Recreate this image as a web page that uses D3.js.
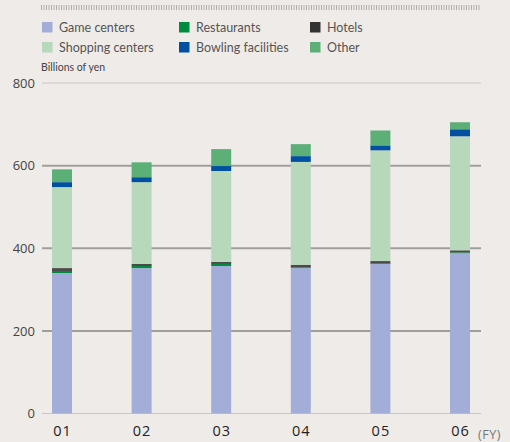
<!DOCTYPE html>
<html>
<head>
<meta charset="utf-8">
<script src="https://cdn.jsdelivr.net/npm/d3@7"></script>
<style>
  html, body { margin: 0; padding: 0; background: #efebe8; }
  svg { display: block; font-family: "Open Sans", "Noto Sans", sans-serif; }
</style>
</head>
<body>
<svg id="chart" width="510" height="442"></svg>
<script>
// Fiscal years shown along the x axis
const years = ["01", "02", "03", "04", "05", "06"];

// Segment values, billions of yen
const gameCenters     = [340, 352, 357, 352, 362, 388];
const restaurants     = [5, 5, 5, 2, 2, 2];
const hotels          = [7, 5, 5, 6, 5, 5];
const shoppingCenters = [196, 198, 220, 249, 268, 276];
const bowling         = [12, 12, 12, 14, 12, 17];
const other           = [31, 36, 41, 29, 36, 17];

const yTicks = [0, 200, 400, 600, 800];

// Series in stacking order (bottom to top)
const seriesKeys = ["Game centers", "Restaurants", "Hotels", "Shopping centers", "Bowling facilities", "Other"];
const seriesValues = [gameCenters, restaurants, hotels, shoppingCenters, bowling, other];
const colors = {
  "Game centers": "#a3aed8",
  "Restaurants": "#008c3f",
  "Hotels": "#4a4a4a",
  "Shopping centers": "#b8d8bc",
  "Bowling facilities": "#0050a2",
  "Other": "#5daf78"
};

const rows = years.map((yr, i) => {
  const r = { year: yr };
  seriesKeys.forEach((k, j) => { r[k] = seriesValues[j][i]; });
  return r;
});

const svg = d3.select("#chart");

const y = d3.scaleLinear().domain([0, 800]).range([413.5, 83]);
const x = d3.scalePoint().domain(years).range([62, 460]);
const barW = 20;
const gridLeft = 42, gridRight = 481;

// dotted rule across the top
svg.append("line")
  .attr("x1", 41).attr("x2", 480)
  .attr("y1", 7.5).attr("y2", 7.5)
  .attr("stroke", "#b0aeac")
  .attr("stroke-width", 5)
  .attr("stroke-dasharray", "1,1.5");

// legend
const legendLayout = [
  { key: "Game centers", x: 42, y: 22 },
  { key: "Restaurants", x: 179, y: 22 },
  { key: "Hotels", x: 310, y: 22 },
  { key: "Shopping centers", x: 42, y: 42 },
  { key: "Bowling facilities", x: 179, y: 42 },
  { key: "Other", x: 310, y: 42 }
];
const legendColors = Object.assign({}, colors, { "Hotels": "#333333" });
const lg = svg.append("g");
legendLayout.forEach(d => {
  lg.append("rect").attr("x", d.x).attr("y", d.y).attr("width", 10.5).attr("height", 10.5)
    .attr("fill", legendColors[d.key]);
  lg.append("text").attr("x", d.x + 17).attr("y", d.y + 9.5)
    .attr("font-family", "Lato, \"Open Sans\", sans-serif")
    .attr("font-size", 12.5).attr("fill", "#555").text(d.key);
});

svg.append("text").attr("x", 41).attr("y", 71)
  .attr("font-family", "Lato, \"Open Sans\", sans-serif")
  .attr("font-size", 10.5).attr("fill", "#444").text("Billions of yen");

// gridlines
svg.append("g").selectAll("line").data(yTicks).join("line")
  .attr("x1", gridLeft).attr("x2", gridRight)
  .attr("y1", d => y(d)).attr("y2", d => y(d))
  .attr("stroke", d => (d === 0 || d === 800) ? "#c9c6c4" : "#a09e9d")
  .attr("stroke-width", d => (d === 0 || d === 800) ? 1 : 2);

// y-axis labels
const yAxis = d3.axisLeft(y).tickValues(yTicks).tickSize(0).tickPadding(0);
const ya = svg.append("g").attr("transform", "translate(35,0)").call(yAxis);
ya.select(".domain").remove();
ya.selectAll("text").attr("font-size", 13).attr("fill", "#444")
  .attr("font-family", "\"Open Sans\", sans-serif");

// stacked bars
const stacked = d3.stack().keys(seriesKeys)(rows);
svg.append("g").selectAll("g").data(stacked).join("g")
  .attr("fill", s => colors[s.key])
  .selectAll("rect").data(s => s).join("rect")
  .attr("x", d => x(d.data.year) - barW / 2)
  .attr("width", barW)
  .attr("y", d => y(d[1]))
  .attr("height", d => Math.max(0, y(d[0]) - y(d[1])));

// x-axis labels
const xAxis = d3.axisBottom(x).tickSize(0).tickPadding(0);
const xa = svg.append("g").attr("transform", "translate(0,426)").call(xAxis);
xa.select(".domain").remove();
xa.selectAll("text").attr("font-size", 14.5).attr("fill", "#222")
  .attr("letter-spacing", "1px")
  .attr("font-family", "\"Open Sans\", sans-serif");

svg.append("text").attr("x", 478).attr("y", 438.5)
  .attr("font-size", 12.5).attr("fill", "#777").attr("letter-spacing", "0.5px")
  .text("(FY)");
</script>
</body>
</html>
